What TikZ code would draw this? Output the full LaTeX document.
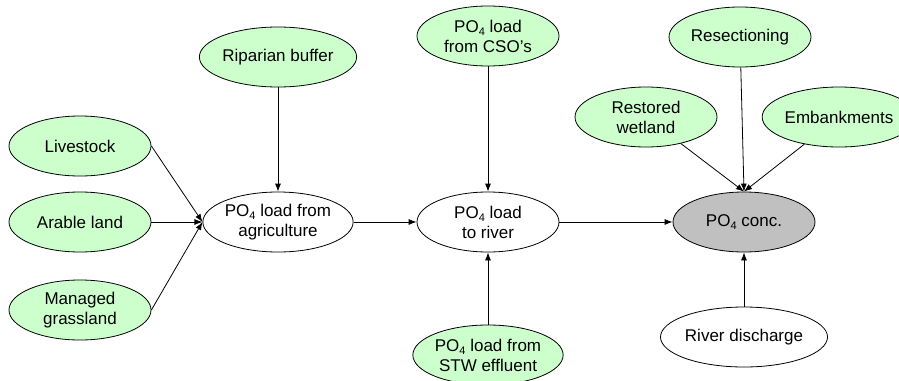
\documentclass[tikz,border=0pt]{standalone}
\usepackage{fontspec}
\setmainfont{Liberation Sans}
\usetikzlibrary{shapes.geometric,arrows.meta}
\definecolor{lgreen}{RGB}{204,255,204}
\definecolor{cgray}{RGB}{192,192,192}
\newcommand{\myfour}{\raisebox{-0.4ex}{\fontsize{11}{11}\selectfont 4}}
\tikzset{
  ell/.style={ellipse, draw, line width=0.8pt, minimum width=142pt, minimum height=60pt, inner sep=0pt, align=center, font=\fontsize{17}{20}\selectfont},
  gnode/.style={ell, fill=lgreen},
  wnode/.style={ell, fill=white},
  cnode/.style={ell, fill=cgray},
  arr/.style={line width=0.8pt, -{Latex[length=8pt,width=6pt]}}
}
\begin{document}
\begin{tikzpicture}[x=1pt,y=-1pt]
\useasboundingbox (0,0) rectangle (899,380);
\clip (0,0) rectangle (899,380);
\node[gnode] (live) at (80,146) {Livestock};
\node[gnode] (arab) at (80,222) {Arable land};
\node[gnode] (gras) at (80,310) {Managed\\grassland};
\node[gnode] (ripa) at (278,57) {Riparian buffer};
\node[wnode] (agri) at (278,222) {PO\myfour{} load from\\agriculture};
\node[gnode] (cso) at (488,36) {PO\myfour{} load\\from CSO’s};
\node[wnode] (river) at (488,222) {PO\myfour{} load\\to river};
\node[gnode] (stw) at (488,355) {PO\myfour{} load from\\STW effluent};
\node[gnode] (resec) at (740,37) {Resectioning};
\node[gnode] (wet) at (646,117) {Restored\\wetland};
\node[gnode, minimum width=140pt] (emb) at (839,117) {Embankments};
\node[cnode] (conc) at (744,222) {PO\myfour{} conc.};
\node[wnode] (disc) at (744,337) {River discharge};
\draw[arr] (live.east) -- (agri.west);
\draw[arr] (arab.east) -- (agri.west);
\draw[arr] (gras.east) -- (agri.west);
\draw[arr] (ripa) -- (agri);
\draw[arr] (agri) -- (river);
\draw[arr] (cso) -- (river);
\draw[arr] (stw) -- (river);
\draw[arr] (river) -- (conc);
\draw[arr] (wet) -- (conc.north);
\draw[arr] (resec) -- (conc.north);
\draw[arr] (emb) -- (conc.north);
\draw[arr] (disc) -- (conc);
\end{tikzpicture}
\end{document}
